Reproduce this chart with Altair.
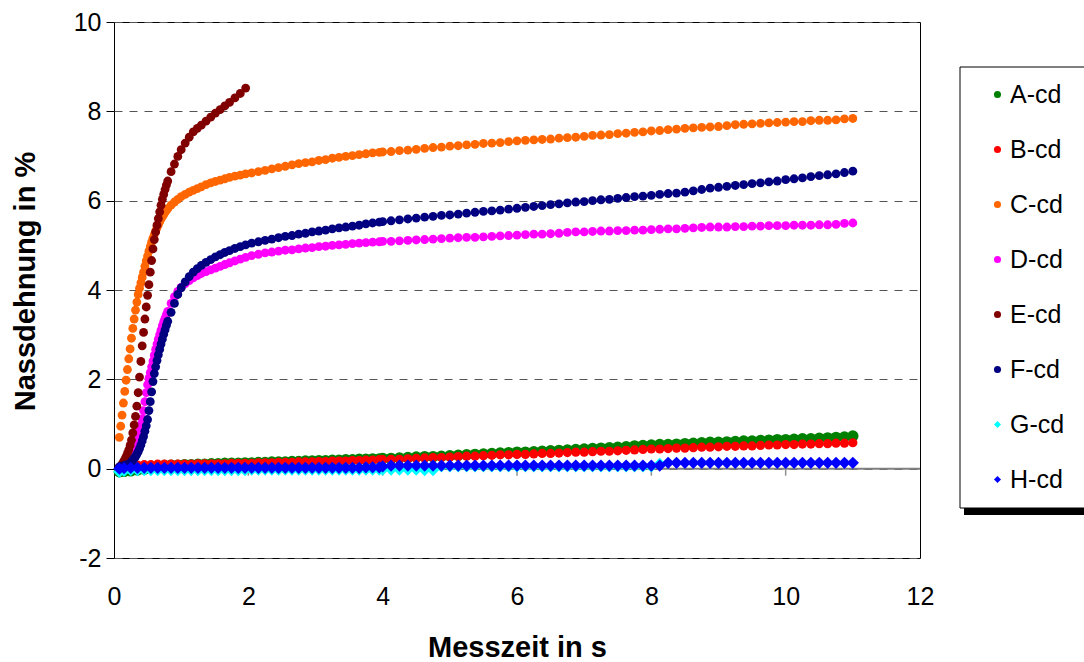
import altair as alt
import pandas as pd

SERIES = ["A-cd", "B-cd", "C-cd", "D-cd", "E-cd", "F-cd", "G-cd", "H-cd"]
COLORS = ["#008000", "#FF0000", "#FF6600", "#FF00FF", "#800000", "#000080", "#00FFFF", "#0000FF"]
SHAPES = ["circle", "circle", "circle", "circle", "circle", "circle", "diamond", "diamond"]

X_TICKS = [0, 2, 4, 6, 8, 10, 12]
Y_TICKS = [-2, 0, 2, 4, 6, 8, 10]
X_MINOR = [2, 4, 6, 8, 10]

# time stamps (s) for the fast-rising series C, D, E, F (up to 4 s)
T_FAST = [0.08, 0.10, 0.12, 0.14, 0.16, 0.18, 0.20, 0.22, 0.24, 0.26, 0.28, 0.30,
          0.32, 0.34, 0.36, 0.38, 0.40, 0.42, 0.44, 0.46, 0.48, 0.50, 0.52, 0.54,
          0.56, 0.58, 0.60, 0.62, 0.64, 0.66, 0.68, 0.70, 0.72, 0.74, 0.76, 0.78, 0.80,
          0.85, 0.90, 0.95, 1.00, 1.06, 1.12, 1.18, 1.24, 1.30,
          1.37, 1.44, 1.51, 1.58, 1.65, 1.72, 1.80, 1.88, 1.96,
          2.05, 2.15, 2.25, 2.35, 2.45, 2.55, 2.65, 2.75, 2.85, 2.95,
          3.05, 3.15, 3.25, 3.35, 3.45, 3.55, 3.65, 3.75, 3.85, 3.95]

# time stamps (s) for the slowly rising series A, B, G, H (up to 4 s)
T_LOW = [0.08, 0.15, 0.25, 0.35, 0.45, 0.55, 0.65, 0.75, 0.85, 0.95,
         1.05, 1.15, 1.25, 1.35, 1.45, 1.55, 1.65, 1.75, 1.85, 1.95,
         2.05, 2.15, 2.25, 2.35, 2.45, 2.55, 2.65, 2.75, 2.85, 2.95,
         3.05, 3.15, 3.25, 3.35, 3.45, 3.55, 3.65, 3.75, 3.85, 3.95]

# time stamps (s) from 4 s to 11 s
T_LATE = [4.0, 4.125, 4.25, 4.375, 4.5, 4.625, 4.75, 4.875,
          5.0, 5.125, 5.25, 5.375, 5.5, 5.625, 5.75, 5.875,
          6.0, 6.125, 6.25, 6.375, 6.5, 6.625, 6.75, 6.875,
          7.0, 7.125, 7.25, 7.375, 7.5, 7.625, 7.75, 7.875,
          8.0, 8.125, 8.25, 8.375, 8.5, 8.625, 8.75, 8.875,
          9.0, 9.125, 9.25, 9.375, 9.5, 9.625, 9.75, 9.875,
          10.0, 10.125, 10.25, 10.375, 10.5, 10.625, 10.75, 10.875, 11.0]

A_EARLY = [-0.07, -0.06, -0.05, -0.03, -0.01, 0.02, 0.05, 0.07, 0.08, 0.08,
           0.09, 0.09, 0.10, 0.10, 0.11, 0.11, 0.12, 0.12, 0.12, 0.13,
           0.13, 0.14, 0.14, 0.15, 0.15, 0.15, 0.16, 0.16, 0.17, 0.17,
           0.18, 0.18, 0.19, 0.19, 0.20, 0.20, 0.21, 0.21, 0.22, 0.22]
A_LATE = [0.23, 0.23, 0.24, 0.25, 0.26, 0.27, 0.27, 0.28,
          0.29, 0.30, 0.31, 0.32, 0.33, 0.34, 0.35, 0.36,
          0.37, 0.37, 0.38, 0.39, 0.40, 0.41, 0.42, 0.43,
          0.44, 0.45, 0.46, 0.47, 0.48, 0.49, 0.51, 0.52,
          0.53, 0.54, 0.54, 0.55, 0.56, 0.57, 0.58, 0.59,
          0.59, 0.60, 0.61, 0.62, 0.62, 0.63, 0.64, 0.65,
          0.65, 0.66, 0.67, 0.67, 0.68, 0.69, 0.70, 0.71, 0.73]

B_EARLY = [0.00, 0.03, 0.06, 0.08, 0.09, 0.09, 0.10, 0.10, 0.10, 0.10,
           0.10, 0.10, 0.11, 0.11, 0.11, 0.11, 0.11, 0.12, 0.12, 0.12,
           0.12, 0.13, 0.13, 0.13, 0.14, 0.14, 0.14, 0.15, 0.15, 0.15,
           0.16, 0.16, 0.17, 0.17, 0.17, 0.18, 0.18, 0.19, 0.19, 0.20]
B_LATE = [0.20, 0.21, 0.21, 0.22, 0.23, 0.24, 0.25, 0.25,
          0.26, 0.27, 0.28, 0.28, 0.29, 0.30, 0.31, 0.31,
          0.32, 0.32, 0.33, 0.34, 0.34, 0.35, 0.36, 0.37,
          0.37, 0.38, 0.39, 0.39, 0.40, 0.41, 0.42, 0.43,
          0.44, 0.44, 0.45, 0.46, 0.46, 0.47, 0.48, 0.48,
          0.49, 0.50, 0.50, 0.51, 0.51, 0.52, 0.53, 0.53,
          0.54, 0.54, 0.55, 0.55, 0.56, 0.56, 0.57, 0.57, 0.58]

C_EARLY = [0.70, 0.95, 1.20, 1.47, 1.73, 1.98, 2.22, 2.46, 2.68, 2.92, 3.14, 3.35,
           3.55, 3.73, 3.90, 4.04, 4.16, 4.28, 4.40, 4.53, 4.65, 4.76, 4.87, 4.97,
           5.07, 5.16, 5.24, 5.32, 5.39, 5.46, 5.53, 5.59, 5.64, 5.69, 5.74, 5.78, 5.82,
           5.90, 5.97, 6.03, 6.09, 6.14, 6.19, 6.23, 6.27, 6.31,
           6.36, 6.40, 6.43, 6.46, 6.49, 6.52, 6.55, 6.57, 6.60,
           6.62, 6.65, 6.68, 6.71, 6.74, 6.77, 6.80, 6.83, 6.85, 6.87,
           6.90, 6.92, 6.95, 6.97, 6.99, 7.01, 7.03, 7.05, 7.07, 7.08]
C_LATE = [7.09, 7.10, 7.12, 7.13, 7.15, 7.17, 7.19, 7.20,
          7.22, 7.23, 7.25, 7.26, 7.28, 7.29, 7.30, 7.32,
          7.34, 7.35, 7.36, 7.37, 7.38, 7.40, 7.41, 7.42,
          7.44, 7.46, 7.47, 7.48, 7.50, 7.51, 7.53, 7.54,
          7.56, 7.57, 7.59, 7.60, 7.62, 7.63, 7.64, 7.65,
          7.66, 7.68, 7.70, 7.71, 7.72, 7.73, 7.74, 7.75,
          7.76, 7.77, 7.77, 7.79, 7.80, 7.80, 7.81, 7.83, 7.84]

D_EARLY = [0.03, 0.04, 0.05, 0.07, 0.09, 0.12, 0.15, 0.19, 0.24, 0.30, 0.37, 0.45,
           0.54, 0.64, 0.75, 0.86, 0.98, 1.12, 1.30, 1.50, 1.70, 1.88, 2.02, 2.15,
           2.28, 2.41, 2.54, 2.67, 2.79, 2.90, 3.00, 3.10, 3.20, 3.29, 3.37, 3.45, 3.52,
           3.70, 3.85, 3.97, 4.06, 4.14, 4.21, 4.27, 4.32, 4.37,
           4.41, 4.45, 4.49, 4.53, 4.57, 4.61, 4.65, 4.69, 4.73,
           4.77, 4.80, 4.83, 4.85, 4.87, 4.89, 4.90, 4.92, 4.94, 4.95,
           4.97, 4.98, 5.00, 5.01, 5.02, 5.04, 5.05, 5.06, 5.07, 5.08]
D_LATE = [5.09, 5.09, 5.10, 5.11, 5.12, 5.13, 5.14, 5.15,
          5.16, 5.17, 5.18, 5.18, 5.19, 5.20, 5.21, 5.22,
          5.23, 5.24, 5.25, 5.25, 5.26, 5.27, 5.29, 5.30,
          5.30, 5.31, 5.32, 5.32, 5.33, 5.33, 5.34, 5.34,
          5.35, 5.36, 5.37, 5.37, 5.38, 5.39, 5.40, 5.41,
          5.41, 5.41, 5.42, 5.42, 5.43, 5.43, 5.44, 5.44,
          5.44, 5.45, 5.45, 5.45, 5.46, 5.46, 5.47, 5.49, 5.50]

E_VALUES = [0.03, 0.06, 0.10, 0.15, 0.20, 0.27, 0.34, 0.42, 0.52, 0.64, 0.80, 0.98,
            1.17, 1.40, 1.70, 2.05, 2.40, 2.75, 3.05, 3.35, 3.62, 3.88, 4.12, 4.40,
            4.66, 4.92, 5.13, 5.30, 5.45, 5.60, 5.75, 5.90, 6.03, 6.14, 6.25, 6.35, 6.44,
            6.65, 6.82, 6.99, 7.14, 7.29, 7.42, 7.54, 7.62, 7.69,
            7.78, 7.87, 7.96, 8.04, 8.12, 8.20, 8.30, 8.40, 8.52]

F_EARLY = [0.04, 0.05, 0.05, 0.06, 0.07, 0.08, 0.09, 0.10, 0.12, 0.15, 0.19, 0.23,
           0.27, 0.32, 0.38, 0.45, 0.53, 0.62, 0.72, 0.84, 0.96, 1.10, 1.30, 1.50,
           1.72, 1.95, 2.13, 2.28, 2.42, 2.55, 2.67, 2.79, 2.90, 3.01, 3.11, 3.21, 3.30,
           3.50, 3.70, 3.90, 4.05, 4.18, 4.30, 4.40, 4.48, 4.55,
           4.62, 4.68, 4.74, 4.79, 4.84, 4.88, 4.93, 4.97, 5.01,
           5.05, 5.08, 5.11, 5.14, 5.17, 5.20, 5.22, 5.25, 5.27, 5.30,
           5.32, 5.34, 5.37, 5.39, 5.41, 5.43, 5.45, 5.48, 5.50, 5.52]
F_LATE = [5.53, 5.55, 5.57, 5.59, 5.61, 5.63, 5.65, 5.67,
          5.68, 5.70, 5.72, 5.74, 5.76, 5.77, 5.79, 5.81,
          5.83, 5.85, 5.87, 5.89, 5.91, 5.93, 5.95, 5.97,
          5.98, 6.00, 6.02, 6.03, 6.05, 6.07, 6.09, 6.10,
          6.12, 6.14, 6.16, 6.17, 6.19, 6.22, 6.25, 6.28,
          6.30, 6.32, 6.34, 6.36, 6.38, 6.40, 6.42, 6.44,
          6.47, 6.49, 6.51, 6.54, 6.56, 6.58, 6.60, 6.63, 6.66]

G_EARLY = [-0.07, -0.05, -0.03, -0.03, -0.03, -0.03, -0.03, -0.03, -0.03, -0.03,
           -0.03, -0.03, -0.03, -0.03, -0.03, -0.03, -0.03, -0.03, -0.03, -0.03,
           -0.02, -0.02, -0.02, -0.02, -0.02, -0.02, -0.02, -0.02, -0.02, -0.02,
           -0.02, -0.02, -0.02, -0.02, -0.02, -0.02, -0.02, -0.02, -0.02, -0.02]
G_LATE = [-0.02, -0.02, -0.02, -0.02, -0.02, -0.03, -0.03,
          0.05, 0.05, 0.05, 0.05, 0.05, 0.05, 0.05, 0.05, 0.05, 0.05, 0.05, 0.05, 0.05,
          0.05, 0.05, 0.05, 0.05, 0.05, 0.05, 0.05, 0.05, 0.05, 0.05, 0.05, 0.05, 0.05,
          0.11]

H_EARLY = [0.00, 0.01, 0.02, 0.02, 0.02, 0.02, 0.02, 0.02, 0.02, 0.02,
           0.02, 0.02, 0.02, 0.02, 0.02, 0.02, 0.02, 0.02, 0.02, 0.02,
           0.02, 0.02, 0.02, 0.02, 0.02, 0.02, 0.02, 0.02, 0.02, 0.02,
           0.02, 0.02, 0.02, 0.02, 0.02, 0.02, 0.02, 0.03, 0.03, 0.03]
H_LATE = [0.05,
          0.07, 0.07, 0.07, 0.07, 0.07, 0.07, 0.07, 0.07, 0.07, 0.07, 0.07,
          0.07, 0.07, 0.07, 0.07, 0.07, 0.07, 0.07, 0.07, 0.07, 0.07, 0.07,
          0.07, 0.07, 0.07, 0.07, 0.07, 0.07, 0.07, 0.07, 0.07, 0.07, 0.07,
          0.13, 0.13, 0.13, 0.13, 0.13, 0.13, 0.13, 0.13, 0.13, 0.13, 0.13,
          0.13, 0.13, 0.13, 0.13, 0.13, 0.13, 0.13, 0.13, 0.13, 0.13, 0.13, 0.13]

SERIES_DATA = [
    ("A-cd", T_LOW + T_LATE, A_EARLY + A_LATE),
    ("B-cd", T_LOW + T_LATE, B_EARLY + B_LATE),
    ("C-cd", T_FAST + T_LATE, C_EARLY + C_LATE),
    ("D-cd", T_FAST + T_LATE, D_EARLY + D_LATE),
    ("E-cd", T_FAST, E_VALUES),
    ("F-cd", T_FAST + T_LATE, F_EARLY + F_LATE),
    ("G-cd", T_LOW + T_LATE, G_EARLY + G_LATE),
    ("H-cd", T_LOW + T_LATE, H_EARLY + H_LATE),
]

rows = []
for order, (name, ts, vs) in enumerate(SERIES_DATA):
    for t, v in zip(ts, vs):
        rows.append({"serie": name, "t": t, "v": v, "o": order})
df = pd.DataFrame(rows)

FONT = "Liberation Sans"
W, H = 806, 536

x_axis = alt.Axis(values=X_TICKS, title="Messzeit in s", domain=False, ticks=False,
                  grid=False, labelFontSize=25, labelPadding=26, labelColor="black",
                  labelFlush=False, labelExpr="'' + datum.value",
                  titleFontSize=29, titleFontWeight="bold", titleColor="black",
                  titleX=W / 2, titleY=89, titleBaseline="middle", titleAnchor="middle")
y_axis = alt.Axis(values=Y_TICKS, title="Nassdehnung in %", domain=False, ticks=True,
                  tickSize=8, tickColor="black", tickWidth=1, labelFontSize=25,
                  labelPadding=5, labelColor="black", labelFlush=False,
                  labelExpr="'' + datum.value", grid=True, gridColor="#555555",
                  gridDash=[8, 7], gridWidth=1,
                  titleFontSize=29, titleFontWeight="bold", titleColor="black",
                  titleX=-89, titleY=259, titleBaseline="middle", titleAnchor="middle")

X_ENC = alt.X("t:Q", scale=alt.Scale(domain=[0, 12], nice=False, zero=False), axis=x_axis)
Y_ENC = alt.Y("v:Q", scale=alt.Scale(domain=[-2, 10], nice=False, zero=False), axis=y_axis)

leg = alt.Legend(title=None, orient="none", legendX=871, legendY=60, labelFontSize=25,
                 labelFont=FONT, labelColor="black", rowPadding=29, labelOffset=0,
                 padding=0, symbolStrokeWidth=0, symbolSize=50)

COLOR_ENC = alt.Color("serie:N", scale=alt.Scale(domain=SERIES, range=COLORS), legend=leg)
SHAPE_ENC = alt.Shape("serie:N", scale=alt.Scale(domain=SERIES, range=SHAPES), legend=leg)


def point_layer(names, size):
    return alt.Chart(df).transform_filter(
        alt.FieldOneOfPredicate(field="serie", oneOf=names)
    ).mark_point(filled=True, opacity=1, strokeWidth=0, size=size).encode(
        x=X_ENC, y=Y_ENC, color=COLOR_ENC, shape=SHAPE_ENC, order=alt.Order("o:Q"))


pts_a = point_layer(["A-cd"], 130)
pts_b = point_layer(["B-cd"], 85)
pts_cf = point_layer(["C-cd", "D-cd", "E-cd", "F-cd"], 78)
pts_gh = point_layer(["G-cd", "H-cd"], 150)

zero_df = pd.DataFrame({"t": [0], "t2": [12], "v": [0]})
zero_line = alt.Chart(zero_df).mark_rule(color="#808080", strokeWidth=2).encode(
    x=X_ENC, x2="t2:Q", y=Y_ENC)

tick_df = pd.DataFrame({"t": X_MINOR, "v": [0] * len(X_MINOR)})
ticks = alt.Chart(tick_df).mark_tick(orient="vertical", size=6, thickness=1.5,
                                     color="#606060", yOffset=4).encode(x=X_ENC, y=Y_ENC)

one = pd.DataFrame({"k": [0]})
legend_shadow = alt.Chart(one).mark_rect(fill="black").encode(
    x=alt.value(850), x2=alt.value(1000), y=alt.value(486), y2=alt.value(493))
legend_box = alt.Chart(one).mark_rect(fill="white", stroke="black", strokeWidth=1).encode(
    x=alt.value(846), x2=alt.value(1000), y=alt.value(45), y2=alt.value(486))

chart = alt.layer(zero_line, ticks, pts_a, pts_b, pts_cf, pts_gh,
                  legend_shadow, legend_box).properties(
    width=W, height=H,
    padding={"left": 114, "top": 22, "right": 164, "bottom": 104},
    autosize=alt.AutoSizeParams(type="none"),
    background="white",
).configure_view(stroke="black", strokeWidth=1).configure_axis(
    labelFont=FONT, titleFont=FONT
).configure_legend(labelFont=FONT)

chart.save("out.html", embed_options={"renderer": "svg", "actions": False})
